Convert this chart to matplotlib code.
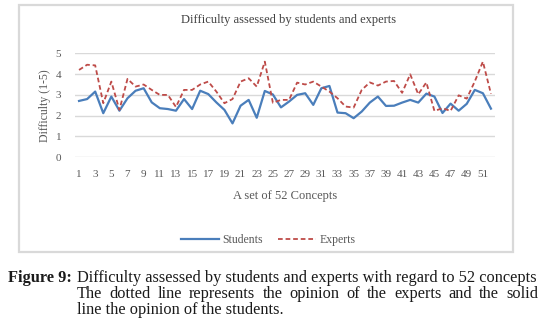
import matplotlib
matplotlib.use('Agg')
import matplotlib.pyplot as plt
from matplotlib.patches import Rectangle
import numpy as np

# Werte
concepts = np.arange(1, 53)
students = [2.71, 2.80, 3.16, 2.12, 2.92, 2.24, 2.84, 3.20, 3.32, 2.64,
            2.36, 2.32, 2.24, 2.80, 2.32, 3.20, 3.04, 2.64, 2.28, 1.63,
            2.48, 2.76, 1.90, 3.19, 3.02, 2.40, 2.68, 3.00, 3.08, 2.52,
            3.32, 3.43, 2.15, 2.12, 1.88, 2.20, 2.63, 2.92, 2.47, 2.48,
            2.63, 2.76, 2.63, 3.06, 2.92, 2.13, 2.58, 2.24, 2.57, 3.24,
            3.08, 2.34]
experts = [4.20, 4.45, 4.42, 2.60, 3.64, 2.28, 3.77, 3.40, 3.50, 3.24,
           3.00, 3.00, 2.42, 3.24, 3.24, 3.50, 3.64, 3.16, 2.60, 2.80,
           3.64, 3.80, 3.40, 4.60, 2.62, 2.76, 2.76, 3.59, 3.50, 3.64,
           3.40, 3.16, 2.84, 2.44, 2.39, 3.24, 3.60, 3.45, 3.64, 3.67,
           3.10, 3.99, 3.03, 3.60, 2.23, 2.36, 2.23, 2.98, 2.82, 3.65,
           4.60, 3.05]
y_ticks = [0, 1, 2, 3, 4, 5]
x_ticks = list(range(1, 53, 2))

TITLE = 'Difficulty assessed by students and experts'
XLABEL = 'A set of 52 Concepts'
YLABEL = 'Difficulty (1-5)'
CAP_HEAD = 'Figure 9:'
CAP_LINE1 = 'Difficulty assessed by students and experts with regard to 52 concepts'
CAP_LINE2 = 'The dotted line represents the opinion of the experts and the solid'
CAP_LINE3 = 'line the opinion of the students.'

W, H = 543, 334
GREY = '#595959'

plt.rcParams['font.family'] = ['Liberation Serif', 'DejaVu Serif']

fig = plt.figure(figsize=(W / 100, H / 100), dpi=100)


def fx(x):
    return x / W


def fy(y):
    return 1 - y / H


# Rahmen des Diagrammbereichs
fig.patches.append(Rectangle((fx(19), fy(252)), fx(513) - fx(19), fy(5) - fy(252),
                             transform=fig.transFigure, fill=False,
                             edgecolor='#d9d9d9', lw=1.6))

ax = fig.add_axes([fx(75), fy(157.3), fx(495) - fx(75), fy(53.3) - fy(157.3)])
ax.plot(concepts, students, color='#4a7ebb', lw=1.6, label='Students')
ax.plot(concepts, experts, color='#be4b48', lw=1.3, ls=(0, (2.6, 1.6)), label='Experts')
ax.set_xlim(0.5, 52.5)
ax.set_ylim(0, 5)
ax.set_yticks(y_ticks)
ax.set_xticks(x_ticks)
ax.grid(axis='y', color='#d9d9d9', lw=1)
ax.set_axisbelow(True)
for s in ax.spines.values():
    s.set_visible(False)
ax.tick_params(length=0, colors=GREY, labelsize=8)
ax.tick_params(axis='y', pad=10)
ax.tick_params(axis='x', pad=9)

fig.text(fx(289), fy(20), TITLE, ha='center', va='center', fontsize=9, color='#404040')
fig.text(fx(285), fy(196), XLABEL, ha='center', va='center', fontsize=9, color=GREY)
fig.text(fx(45), fy(106), YLABEL, ha='center', va='center', rotation=90,
         fontsize=8.5, color=GREY)

leg = fig.legend(loc='center', bbox_to_anchor=(fx(268), fy(240)), ncol=2,
                 frameon=False, fontsize=8.5, handlelength=3.2,
                 handletextpad=0.3, columnspacing=1.3)
for t in leg.get_texts():
    t.set_color(GREY)

# Bildunterschrift (Zeile 2 im Blocksatz)
renderer = fig.canvas.get_renderer()
x0, x1 = 77, 538
probe = fig.text(0, 0, CAP_LINE1, fontsize=10)
cap_size = 10 * (x1 - x0) / probe.get_window_extent(renderer).width
probe.remove()

fig.text(fx(8), fy(278), CAP_HEAD, ha='left', va='center', fontsize=cap_size,
         fontweight='bold', color='#1a1a1a')
fig.text(fx(x0), fy(278), CAP_LINE1, ha='left', va='center', fontsize=cap_size,
         color='#1a1a1a')

words = CAP_LINE2.split()
texts = [fig.text(0, fy(294), w, ha='left', va='center', fontsize=cap_size,
                  color='#1a1a1a') for w in words]
widths = [t.get_window_extent(renderer).width for t in texts]
gap = (x1 - x0 - sum(widths)) / (len(words) - 1)
xpos = x0
for t, w in zip(texts, widths):
    t.set_x(fx(xpos))
    xpos += w + gap

fig.text(fx(x0), fy(310), CAP_LINE3, ha='left', va='center', fontsize=cap_size,
         color='#1a1a1a')

fig.savefig('out.png', dpi=100)
